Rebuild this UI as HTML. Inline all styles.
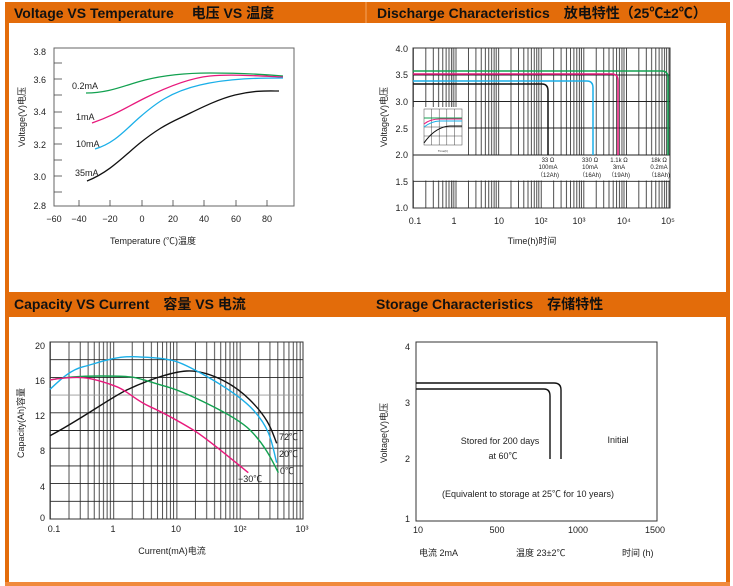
<!DOCTYPE html>
<html><head><meta charset="utf-8"><style>
html,body{margin:0;padding:0;background:#fff;}
svg{display:block;font-family:"Liberation Sans","Noto Sans CJK SC",sans-serif;}
.h{font-family:"Liberation Sans","Noto Sans CJK SC",sans-serif;font-weight:bold;font-size:14px;fill:#111;}
.t{font-size:9px;fill:#222;}
.s{font-size:6px;fill:#222;}
</style></head><body>
<svg width="733" height="586" viewBox="0 0 733 586" xmlns="http://www.w3.org/2000/svg">
<defs>
<pattern id="lg2" x="413" y="0" width="42.6" height="600" patternUnits="userSpaceOnUse">
<g stroke="#222" stroke-width="0.8">
<line x1="0.4" y1="0" x2="0.4" y2="600"/><line x1="12.8" y1="0" x2="12.8" y2="600"/><line x1="20.3" y1="0" x2="20.3" y2="600"/><line x1="25.6" y1="0" x2="25.6" y2="600"/><line x1="29.8" y1="0" x2="29.8" y2="600"/><line x1="33.1" y1="0" x2="33.1" y2="600"/><line x1="36" y1="0" x2="36" y2="600"/><line x1="38.5" y1="0" x2="38.5" y2="600"/><line x1="40.6" y1="0" x2="40.6" y2="600"/></g></pattern>
<pattern id="lg3" x="50" y="0" width="63.25" height="600" patternUnits="userSpaceOnUse">
<g stroke="#222" stroke-width="0.8">
<line x1="0.4" y1="0" x2="0.4" y2="600"/><line x1="19" y1="0" x2="19" y2="600"/><line x1="30.2" y1="0" x2="30.2" y2="600"/><line x1="38.1" y1="0" x2="38.1" y2="600"/><line x1="44.2" y1="0" x2="44.2" y2="600"/><line x1="49.2" y1="0" x2="49.2" y2="600"/><line x1="53.5" y1="0" x2="53.5" y2="600"/><line x1="57.1" y1="0" x2="57.1" y2="600"/><line x1="60.4" y1="0" x2="60.4" y2="600"/></g></pattern>
</defs>
<!-- frames -->
<rect x="5" y="2" width="722" height="21" fill="#E36C0A"/>
<rect x="5" y="292" width="722" height="25" fill="#E36C0A"/>
<line x1="366" y1="2" x2="366" y2="23" stroke="#f4a460" stroke-width="1"/>
<rect x="5" y="23" width="4" height="563" fill="#E36C0A"/>
<rect x="726" y="2" width="4" height="584" fill="#E36C0A"/>
<rect x="5" y="582" width="725" height="4" fill="#F08A3C"/>
<text class="h" x="14" y="18">Voltage VS Temperature　 电压 VS  温度</text>
<text class="h" x="377" y="18">Discharge Characteristics　放电特性（25℃±2℃）</text>
<text class="h" x="14" y="309">Capacity VS Current　容量 VS  电流</text>
<text class="h" x="376" y="309">Storage Characteristics　存储特性</text>

<!-- Chart 1 -->
<rect x="54" y="48" width="240" height="158" fill="none" stroke="#666" stroke-width="1"/>
<g stroke="#444" stroke-width="0.8">
<line x1="54" y1="63" x2="62" y2="63"/><line x1="54" y1="79" x2="62" y2="79"/><line x1="54" y1="95" x2="62" y2="95"/><line x1="54" y1="112" x2="62" y2="112"/><line x1="54" y1="128" x2="62" y2="128"/><line x1="54" y1="144" x2="62" y2="144"/><line x1="54" y1="160" x2="62" y2="160"/><line x1="54" y1="176" x2="62" y2="176"/><line x1="54" y1="192" x2="62" y2="192"/>
<line x1="79" y1="200" x2="79" y2="206"/><line x1="110" y1="200" x2="110" y2="206"/><line x1="142" y1="200" x2="142" y2="206"/><line x1="173" y1="200" x2="173" y2="206"/><line x1="204" y1="200" x2="204" y2="206"/><line x1="236" y1="200" x2="236" y2="206"/><line x1="267" y1="200" x2="267" y2="206"/>
</g>
<g class="t" text-anchor="end">
<text x="46" y="55">3.8</text><text x="46" y="83">3.6</text><text x="46" y="115">3.4</text><text x="46" y="148">3.2</text><text x="46" y="180">3.0</text><text x="46" y="209">2.8</text></g>
<g class="t" text-anchor="middle">
<text x="54" y="222">−60</text><text x="79" y="222">−40</text><text x="110" y="222">−20</text><text x="142" y="222">0</text><text x="173" y="222">20</text><text x="204" y="222">40</text><text x="236" y="222">60</text><text x="267" y="222">80</text>
<text x="153" y="244">Temperature (℃)温度</text></g>
<text class="t" transform="translate(25,117) rotate(-90)" text-anchor="middle">Voltage(V)电压</text>
<g fill="none" stroke-width="1.3">
<path d="M86,93 C110,93 125,85 145,80 S190,73 210,73 S260,74 283,76" stroke="#12A150"/>
<path d="M92,123 C115,115 125,108 145,98 S190,78 210,76 S260,76 283,77" stroke="#E8197C"/>
<path d="M95,149 C115,143 125,130 140,117 S170,92 200,85 S260,78 283,78" stroke="#1AAFE8"/>
<path d="M87,181 C110,172 125,155 140,143 S165,125 180,118 S215,100 235,95 S270,91 279,91" stroke="#111"/>
</g>
<g class="t"><text x="72" y="89">0.2mA</text><text x="76" y="120">1mA</text><text x="76" y="147">10mA</text><text x="75" y="176">35mA</text></g>

<!-- Chart 2 -->
<rect x="413" y="48" width="257" height="160" fill="url(#lg2)"/>
<rect x="452" y="48" width="4" height="160" fill="#aaa" opacity="0.6"/>
<rect x="621" y="48" width="4" height="160" fill="#aaa" opacity="0.6"/>
<rect x="413" y="107" width="55" height="48" fill="#fff"/>
<rect x="413" y="155.5" width="257" height="25" fill="#fff"/>
<g stroke="#222" stroke-width="0.9">
<line x1="413" y1="75" x2="670" y2="75"/><line x1="413" y1="101.5" x2="670" y2="101.5"/><line x1="468" y1="128" x2="670" y2="128"/><line x1="413" y1="155" x2="670" y2="155"/><line x1="413" y1="181.3" x2="670" y2="181.3"/>
</g>
<rect x="413" y="48" width="257" height="160" fill="none" stroke="#333" stroke-width="1"/>
<!-- inset -->
<g stroke="#444" stroke-width="0.5" fill="none">
<rect x="424" y="109" width="38" height="36"/>
<line x1="424" y1="118" x2="462" y2="118"/><line x1="424" y1="127" x2="462" y2="127"/><line x1="424" y1="136" x2="462" y2="136"/>
<line x1="431.6" y1="109" x2="431.6" y2="145"/><line x1="439.2" y1="109" x2="439.2" y2="145"/><line x1="446.8" y1="109" x2="446.8" y2="145"/><line x1="454.4" y1="109" x2="454.4" y2="145"/>
</g>
<path d="M424,118 L462,118" stroke="#12A150" fill="none"/>
<path d="M424,124 Q430,119 440,119 L462,119" stroke="#E8197C" fill="none"/>
<path d="M424,127 Q432,121 440,121 L462,121" stroke="#1AAFE8" fill="none"/>
<path d="M424,143 Q435,127 450,126 L462,126" stroke="#111" fill="none"/>
<text x="443" y="152" font-size="3" text-anchor="middle" fill="#333">Time(h)</text>
<g fill="none" stroke-width="1.5">
<path d="M413,71 L662,71 Q668,71 668,78 L668,155" stroke="#12A150"/>
<path d="M413,74 L612,74 Q618,74 618,81 L618,155" stroke="#E8197C"/>
<path d="M413,81 L587,81 Q593,81 593,88 L593,155" stroke="#1AAFE8"/>
<path d="M413,84 L542,84 Q548,84 548,91 L548,155" stroke="#111"/>
</g>
<g class="s" text-anchor="middle">
<text x="548" y="162">33 Ω</text><text x="548" y="169">100mA</text><text x="548" y="177">（12Ah)</text>
<text x="590" y="162">330 Ω</text><text x="590" y="169">10mA</text><text x="590" y="177">（16Ah)</text>
<text x="619" y="162">1.1k Ω</text><text x="619" y="169">3mA</text><text x="619" y="177">（19Ah)</text>
<text x="659" y="162">18k Ω</text><text x="659" y="169">0.2mA</text><text x="659" y="177">（18Ah)</text></g>
<g class="t" text-anchor="end">
<text x="408" y="52">4.0</text><text x="408" y="78">3.5</text><text x="408" y="105">3.0</text><text x="408" y="132">2.5</text><text x="408" y="158">2.0</text><text x="408" y="185">1.5</text><text x="408" y="211">1.0</text></g>
<g class="t" text-anchor="middle">
<text x="415" y="224">0.1</text><text x="454" y="224">1</text><text x="499" y="224">10</text><text x="541" y="224">10²</text><text x="579" y="224">10³</text><text x="624" y="224">10⁴</text><text x="668" y="224">10⁵</text>
<text x="532" y="244">Time(h)时间</text></g>
<text class="t" transform="translate(387,117) rotate(-90)" text-anchor="middle">Voltage(V)电压</text>

<!-- Chart 3 -->
<rect x="50" y="342" width="253" height="177" fill="url(#lg3)"/>
<g stroke="#222" stroke-width="0.9">
<line x1="50" y1="359.7" x2="303" y2="359.7"/><line x1="50" y1="377.4" x2="303" y2="377.4"/><line x1="50" y1="395.1" x2="303" y2="395.1" stroke="#999"/><line x1="50" y1="412.8" x2="303" y2="412.8"/><line x1="50" y1="430.5" x2="303" y2="430.5"/><line x1="50" y1="448.2" x2="303" y2="448.2"/><line x1="50" y1="465.9" x2="303" y2="465.9"/><line x1="50" y1="483.6" x2="303" y2="483.6"/><line x1="50" y1="501.3" x2="303" y2="501.3"/>
</g>
<rect x="50" y="342" width="253" height="177" fill="none" stroke="#333" stroke-width="1"/>
<g fill="none" stroke-width="1.4" stroke-linejoin="round">
<path d="M50,435.7 C80,420 110,398 126.7,390 S170,372 186.7,371 S230,380 250,400 S272,432 276.7,443.3" stroke="#111"/>
<path d="M50,389.3 C60,380 70,370 83.3,366.7 S115,356 133.3,356.7 S165,358 176.7,361.7 S235,390 253.3,410 S272,445 276.7,462.7" stroke="#1AAFE8"/>
<path d="M50,380 C65,377 85,376 100,376 S125,376 133.3,377.3 S150,382 166.7,386.7 S235,415 250,430 S272,460 278.3,472.7" stroke="#12A150"/>
<path d="M50,380 C60,378 75,377 83.3,377.7 S105,382 116.7,386.7 S135,400 150,406.7 S180,422 193.3,430 S235,462 248.3,472.7" stroke="#E8197C"/>
</g>
<g class="t"><text x="279" y="440">72℃</text><text x="279" y="457">20℃</text><text x="280" y="474">0℃</text><text x="238" y="482">−30℃</text></g>
<g class="t" text-anchor="end">
<text x="45" y="349">20</text><text x="45" y="384">16</text><text x="45" y="419">12</text><text x="45" y="454">8</text><text x="45" y="490">4</text><text x="45" y="521">0</text></g>
<g class="t" text-anchor="middle">
<text x="54" y="532">0.1</text><text x="113" y="532">1</text><text x="176" y="532">10</text><text x="240" y="532">10²</text><text x="302" y="532">10³</text>
<text x="172" y="554">Current(mA)电流</text></g>
<text class="t" transform="translate(24,423) rotate(-90)" text-anchor="middle">Capacity(Ah)容量</text>

<!-- Chart 4 -->
<rect x="416" y="342" width="241" height="179" fill="none" stroke="#333" stroke-width="1"/>
<g fill="none" stroke="#111" stroke-width="1.4">
<path d="M416,383 L554,383 Q561,383 561,390 L561,459"/>
<path d="M416,389 L544,389 Q550,389 550,396 L550,459"/>
</g>
<g class="t" text-anchor="end"><text x="410" y="350">4</text><text x="410" y="406">3</text><text x="410" y="462">2</text><text x="410" y="522">1</text></g>
<g class="t" text-anchor="middle">
<text x="418" y="533">10</text><text x="497" y="533">500</text><text x="578" y="533">1000</text><text x="655" y="533">1500</text>
<text x="500" y="444">Stored for 200 days</text><text x="503" y="459">at 60℃</text><text x="618" y="443">Initial</text>
<text x="528" y="497">(Equivalent to storage at 25℃ for 10 years)</text></g>
<g class="t"><text x="419" y="556">电流  2mA</text><text x="516" y="556">温度  23±2℃</text><text x="622" y="556">时间 (h)</text></g>
<text class="t" transform="translate(387,433) rotate(-90)" text-anchor="middle">Voltage(V)电压</text>
</svg>
</body></html>
